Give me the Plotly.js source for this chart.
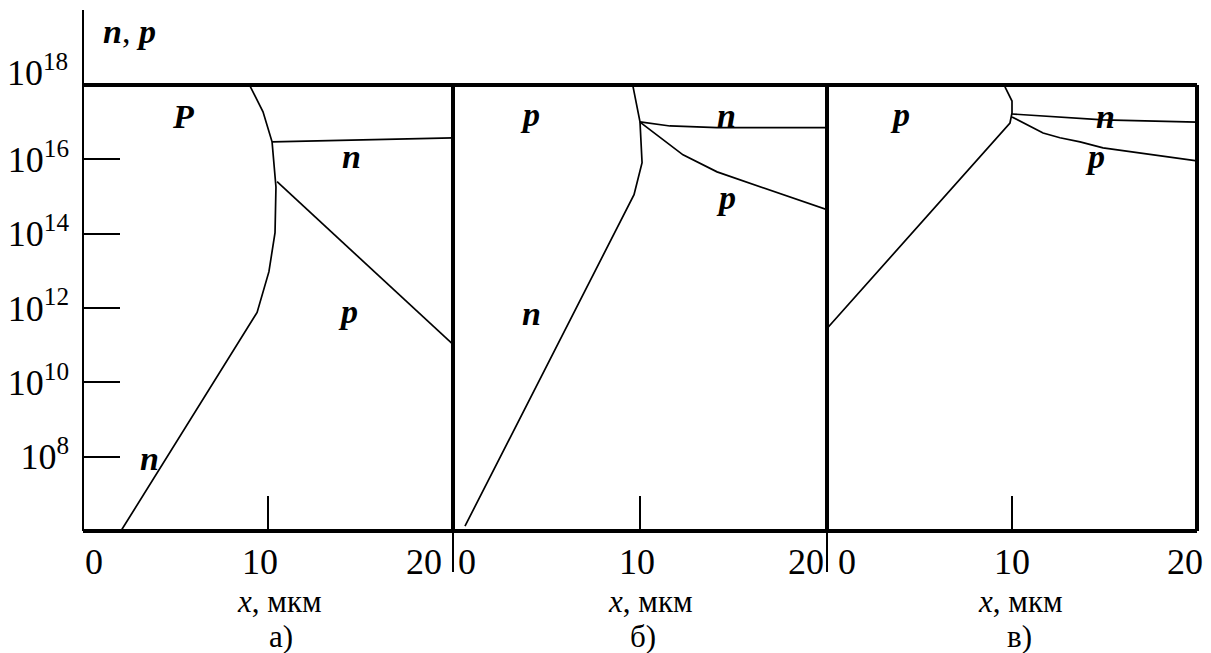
<!DOCTYPE html>
<html><head><meta charset="utf-8">
<script src="https://cdn.plot.ly/plotly-3.0.1.min.js"></script>
<style>html,body{margin:0;padding:0;background:#fff}#chart{width:1211px;height:653px}</style>
</head><body><div id="chart"></div><script>
// ---------- data (x in мкм, concentrations in cm^-3) ----------
const panelNames = ['а)', 'б)', 'в)'];
const xTickLabels = ['0', '10', '20'];
const xTickValues = [0, 10, 20];
const xTitleText = '<i>x</i>, мкм';
const yTitleText = '<b><i>n</i></b>, <b><i>p</i></b>';
const yTickExponents = [8, 10, 12, 14, 16];
const yTopExponent = 18;

// panel а)
const a_boundary_x = [2.05, 9.41, 10.05, 10.38, 10.43, 10.22, 9.73, 9.03];
const a_boundary_c = [1.0e6, 7.6e11, 9.5e12, 1.07e14, 1.8e15, 2.95e16, 1.9e17, 9.3e17];
const a_n_x = [10.22, 20];
const a_n_c = [2.95e16, 3.8e16];
const a_p_x = [10.49, 20];
const a_p_c = [2.5e15, 1.05e11];

// panel б)
const b_boundary_x = [0.64, 9.68, 10.11, 10.0, 9.63];
const b_boundary_c = [1.35e6, 1.12e15, 8.1e15, 1.02e17, 8.9e17];
const b_n_x = [10.0, 11.6, 14.12, 20];
const b_n_c = [1.02e17, 7.9e16, 7.1e16, 7.1e16];
const b_p_x = [10.0, 11.44, 12.3, 14.12, 20];
const b_p_c = [1.0e17, 2.75e16, 1.32e16, 4.6e15, 4.4e14];

// panel в)
const c_boundary_x = [0.0, 9.89, 10.0, 10.0, 9.62];
const c_boundary_c = [2.8e11, 9.5e16, 1.78e17, 3.7e17, 8.9e17];
const c_n_x = [10.0, 13.68, 14.92, 20];
const c_n_c = [1.66e17, 1.23e17, 1.15e17, 1.0e17];
const c_p_x = [10.0, 10.81, 11.68, 12.59, 13.68, 14.92, 20];
const c_p_c = [1.38e17, 8.5e16, 5.1e16, 3.8e16, 2.95e16, 2.04e16, 9.1e15];

// region labels: [text, axis, x (мкм), log10 c]
const regionLabels = [
  ['P', 'x', 5.4, 17.14], ['n', 'x', 14.5, 16.08], ['p', 'x', 14.3, 11.9], ['n', 'x', 3.57, 7.95],
  ['p', 'x2', 4.12, 17.21], ['n', 'x2', 14.6, 17.18], ['p', 'x2', 14.6, 14.97], ['n', 'x2', 4.22, 11.85],
  ['p', 'x3', 3.95, 17.21], ['n', 'x3', 15.08, 17.15], ['p', 'x3', 14.49, 16.08]
];

// ---------- layout geometry ----------
const W = 1211, H = 653;
const L = 83, R = 14, T = 85, B = 122;
const PW = W - L - R, PH = H - T - B;
const panelEdges = [0, 370, 744, PW];
const dom = i => [panelEdges[i] / PW, panelEdges[i + 1] / PW];
const axisIds = ['x', 'x2', 'x3'];
const px = v => (v - L) / PW;
const py = v => (T + PH - v) / PH;

const lineStyle = {color: '#000', width: 1.7};
function curve(x, c, ax) {
  return {x: x, y: c, xaxis: ax, yaxis: 'y', mode: 'lines', line: lineStyle,
          hoverinfo: 'skip', showlegend: false};
}
const traces = [
  curve(a_boundary_x, a_boundary_c, 'x'), curve(a_n_x, a_n_c, 'x'), curve(a_p_x, a_p_c, 'x'),
  curve(b_boundary_x, b_boundary_c, 'x2'), curve(b_n_x, b_n_c, 'x2'), curve(b_p_x, b_p_c, 'x2'),
  curve(c_boundary_x, c_boundary_c, 'x3'), curve(c_n_x, c_n_c, 'x3'), curve(c_p_x, c_p_c, 'x3')
];

const shapes = [];
const thick = {color: '#000', width: 4};
const thin = {color: '#000', width: 2};
shapes.push({type: 'line', xref: 'paper', yref: 'paper', x0: 0, x1: 0, y0: 0, y1: py(10), line: thin});
shapes.push({type: 'line', xref: 'paper', yref: 'paper', x0: 0, x1: 1, y0: 1, y1: 1, line: thick});
shapes.push({type: 'line', xref: 'paper', yref: 'paper', x0: 0, x1: 1, y0: 0, y1: 0, line: thick});
for (let i = 1; i <= 3; i++) {
  const xp = panelEdges[i] / PW;
  shapes.push({type: 'line', xref: 'paper', yref: 'paper', x0: xp, x1: xp, y0: 0, y1: 1, line: thick});
  if (i < 3) shapes.push({type: 'line', xref: 'paper', yref: 'paper', x0: xp, x1: xp, y0: 0, y1: py(572), line: thin});
}
axisIds.forEach(ax => {
  shapes.push({type: 'line', xref: ax, yref: 'paper', x0: xTickValues[1], x1: xTickValues[1],
               y0: 0, y1: py(496), line: thin});
});

const annotations = [];
const serif = '"Liberation Serif", "Times New Roman", Times, serif';
const tickLabelPix = [[94, 260, 424], [467, 637, 806], [847, 1012, 1185]];
tickLabelPix.forEach((row, i) => row.forEach((p, j) => {
  annotations.push({text: xTickLabels[j], xref: 'paper', yref: 'paper', x: px(p), y: py(562),
    xanchor: 'center', yanchor: 'middle', showarrow: false, font: {size: 36, family: serif, color: '#000'}});
}));
const titlePix = [279, 650, 1020];
const namePix = [281, 643, 1019];
titlePix.forEach((p, i) => {
  annotations.push({text: xTitleText, xref: 'paper', yref: 'paper', x: px(p), y: py(601),
    xanchor: 'center', yanchor: 'middle', showarrow: false, font: {size: 31, family: serif, color: '#000'}});
  annotations.push({text: panelNames[i], xref: 'paper', yref: 'paper', x: px(namePix[i]), y: py(636),
    xanchor: 'center', yanchor: 'middle', showarrow: false, font: {size: 31, family: serif, color: '#000'}});
});
annotations.push({text: yTitleText, xref: 'paper', yref: 'paper', x: px(101), y: py(32),
  xanchor: 'left', yanchor: 'middle', showarrow: false, font: {size: 34, family: serif, color: '#000'}});
annotations.push({text: '10<sup>' + yTopExponent + '</sup>', xref: 'paper', yref: 'paper', x: px(70), y: py(70),
  xanchor: 'right', yanchor: 'middle', showarrow: false, font: {size: 36, family: serif, color: '#000'}});
regionLabels.forEach(r => {
  annotations.push({text: '<b><i>' + r[0] + '</i></b>', xref: r[1], yref: 'y', x: r[2], y: r[3],
    xanchor: 'center', yanchor: 'middle', showarrow: false, font: {size: 34, family: serif, color: '#000'}});
});

const hiddenX = i => ({domain: dom(i), range: [0, 20], visible: false, fixedrange: true, anchor: 'y'});
const layout = {
  width: W, height: H,
  margin: {l: L, r: R, t: T, b: B, pad: 0},
  paper_bgcolor: '#fff', plot_bgcolor: '#fff',
  font: {family: serif, color: '#000'},
  showlegend: false,
  xaxis: hiddenX(0), xaxis2: hiddenX(1), xaxis3: hiddenX(2),
  yaxis: {
    type: 'log', range: [6, 18], anchor: 'x',
    tickvals: yTickExponents.map(e => Math.pow(10, e)),
    ticktext: yTickExponents.map(e => '10<sup>' + e + '</sup>'),
    ticks: 'inside', ticklen: 37, tickwidth: 2, tickcolor: '#000',
    ticklabelstandoff: 13,
    tickfont: {size: 36, family: serif, color: '#000'},
    showgrid: false, zeroline: false, showline: false, fixedrange: true
  },
  shapes: shapes,
  annotations: annotations
};
Plotly.newPlot('chart', traces, layout, {displayModeBar: false, staticPlot: true});
</script></body></html>
